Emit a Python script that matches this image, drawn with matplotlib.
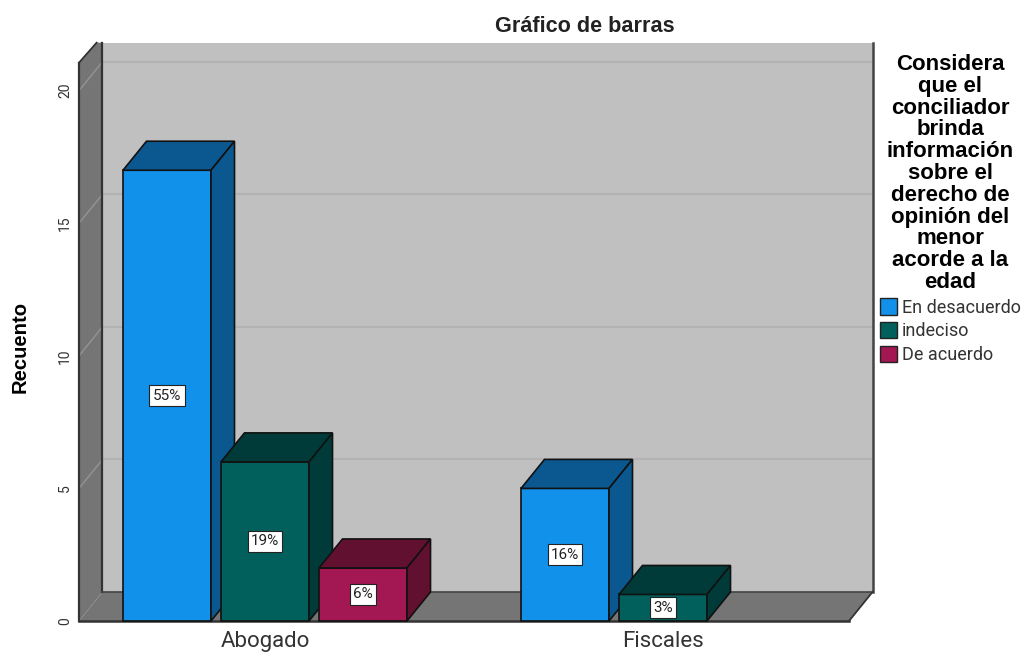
import matplotlib
matplotlib.use('Agg')
import matplotlib.pyplot as plt
from matplotlib.patches import Polygon, Patch
import numpy as np

categories = ['Abogado', 'Fiscales']
series_names = ['En desacuerdo', 'indeciso', 'De acuerdo']
counts = [[17, 5], [6, 1], [2, 0]]
percents = [['55%', '16%'], ['19%', '3%'], ['6%', '']]
y_ticks = [0, 5, 10, 15, 20]
legend_title = ('Considera\nque el\nconciliador\nbrinda\ninformación\nsobre el\nderecho de\n'
                'opinión del\nmenor\nacorde a la\nedad')

front = ['#1191ea', '#01605c', '#a31753']
shade = ['#0b5890', '#003b39', '#62102f']

W, H = 1023, 653
fig = plt.figure(figsize=(W/100, H/100), dpi=100)
ax = fig.add_axes([79/W, (H-621)/H, 770/W, 530.3/H])

step = 398.0
x_min, x_max = (79-265)/step, (849-265)/step
ax.set_xlim(x_min, x_max)
ax.set_ylim(0, 20)
dx = 23.5/step
dy = 29/26.5
top = (621-43)/26.5
wall_top = (621-63)/26.5
edge = '#333333'

def poly(pts, fc, ec='none', lw=0, z=1):
  ax.add_patch(Polygon(pts, closed=True, facecolor=fc, edgecolor=ec, linewidth=lw, zorder=z, clip_on=False))

# walls and floor
poly([(x_min+dx, dy), (x_max+dx, dy), (x_max+dx, top), (x_min+dx, top)], '#c0c0c0', z=1)
poly([(x_min, 0), (x_min+dx, dy), (x_min+dx, top), (x_min+dx*0.75, top), (x_min, wall_top)], '#757575', z=1)
poly([(x_min, 0), (x_max, 0), (x_max+dx, dy), (x_min+dx, dy)], '#757575', z=1)

for t in y_ticks[1:]:
  ax.plot([x_min, x_min+dx], [t, t+dy], color='#949494', lw=1, zorder=2, clip_on=False)
  ax.plot([x_min+dx, x_max+dx], [t+dy, t+dy], color='#b2b2b2', lw=1.5, zorder=2, clip_on=False)

ax.plot([x_min, x_min], [0, wall_top], color=edge, lw=1.6, zorder=3, clip_on=False)
ax.plot([x_min, x_min+dx*0.75], [wall_top, top], color=edge, lw=1.3, zorder=3, clip_on=False)
ax.plot([x_min+dx, x_min+dx], [dy, top], color=edge, lw=1.6, zorder=3, clip_on=False)
ax.plot([x_min+dx, x_max+dx], [dy, dy], color='#444444', lw=1.2, zorder=3, clip_on=False)
ax.plot([x_max+dx, x_max+dx], [dy, top], color='#444444', lw=1.8, zorder=3, clip_on=False)
ax.plot([x_max, x_max+dx], [0, dy], color=edge, lw=1.3, zorder=3, clip_on=False)
ax.plot([x_min, x_max], [0, 0], color=edge, lw=1.8, zorder=3, clip_on=False)

# bars
bar_w = 88/step
bar_step = 98/step
for s in range(3):
  for c in range(2):
    v = counts[s][c]
    if v == 0:
      continue
    x0 = c + (s-1)*bar_step - bar_w/2
    x1 = x0 + bar_w
    z = 5 + c*10 + s
    poly([(x0, 0), (x1, 0), (x1, v), (x0, v)], front[s], '#111111', 1.2, z)
    poly([(x0, v), (x1, v), (x1+dx, v+dy), (x0+dx, v+dy)], shade[s], '#111111', 1.2, z)
    poly([(x1, 0), (x1+dx, dy), (x1+dx, v+dy), (x1, v)], shade[s], '#111111', 1.2, z)
    ax.text((x0+x1)/2, v/2, percents[s][c], ha='center', va='center', fontsize=11,
            family='Roboto', color='#222222', zorder=z+0.5,
            bbox=dict(boxstyle='square,pad=0.22', facecolor='white', edgecolor='#222222', linewidth=0.8))

for side in ax.spines.values():
  side.set_visible(False)
ax.patch.set_visible(False)
ax.set_xticks([0, 1])
ax.set_xticklabels(categories, fontsize=16, family='Roboto', color='#333333')
ax.set_yticks(y_ticks)
ax.set_yticklabels([str(t) for t in y_ticks], rotation=90, va='center', fontsize=10, family='Roboto', color='#333333')
ax.tick_params(axis='both', length=0)
ax.tick_params(axis='x', pad=7)
ax.tick_params(axis='y', pad=5)

fig.text(20/W, 1-347/H, 'Recuento', rotation=90, ha='center', va='center', fontsize=14.6, fontweight='bold', family='Liberation Sans')
fig.text(585/W, 1-26/H, 'Gráfico de barras', ha='center', va='center', fontsize=15.6, fontweight='bold', family='Liberation Sans', color='#222222')

handles = [Patch(facecolor=front[i], edgecolor='#222222', linewidth=1) for i in range(3)]
leg = fig.legend(handles, series_names, title=legend_title, loc='upper left', bbox_to_anchor=(880/W, 1-54/H),
                 frameon=False, handlelength=0.95, handleheight=1.0, handletextpad=0.25, labelspacing=0.3,
                 borderpad=0, borderaxespad=0, prop={'family': 'Roboto', 'size': 13}, labelcolor='#333333',
                 title_fontproperties={'family': 'Liberation Sans', 'weight': 'bold', 'size': 16})
leg._legend_box.align = 'center'
leg.get_title().set_multialignment('center')
leg.get_title().set_linespacing(1.05)

fig.savefig('out.png', dpi=100)
